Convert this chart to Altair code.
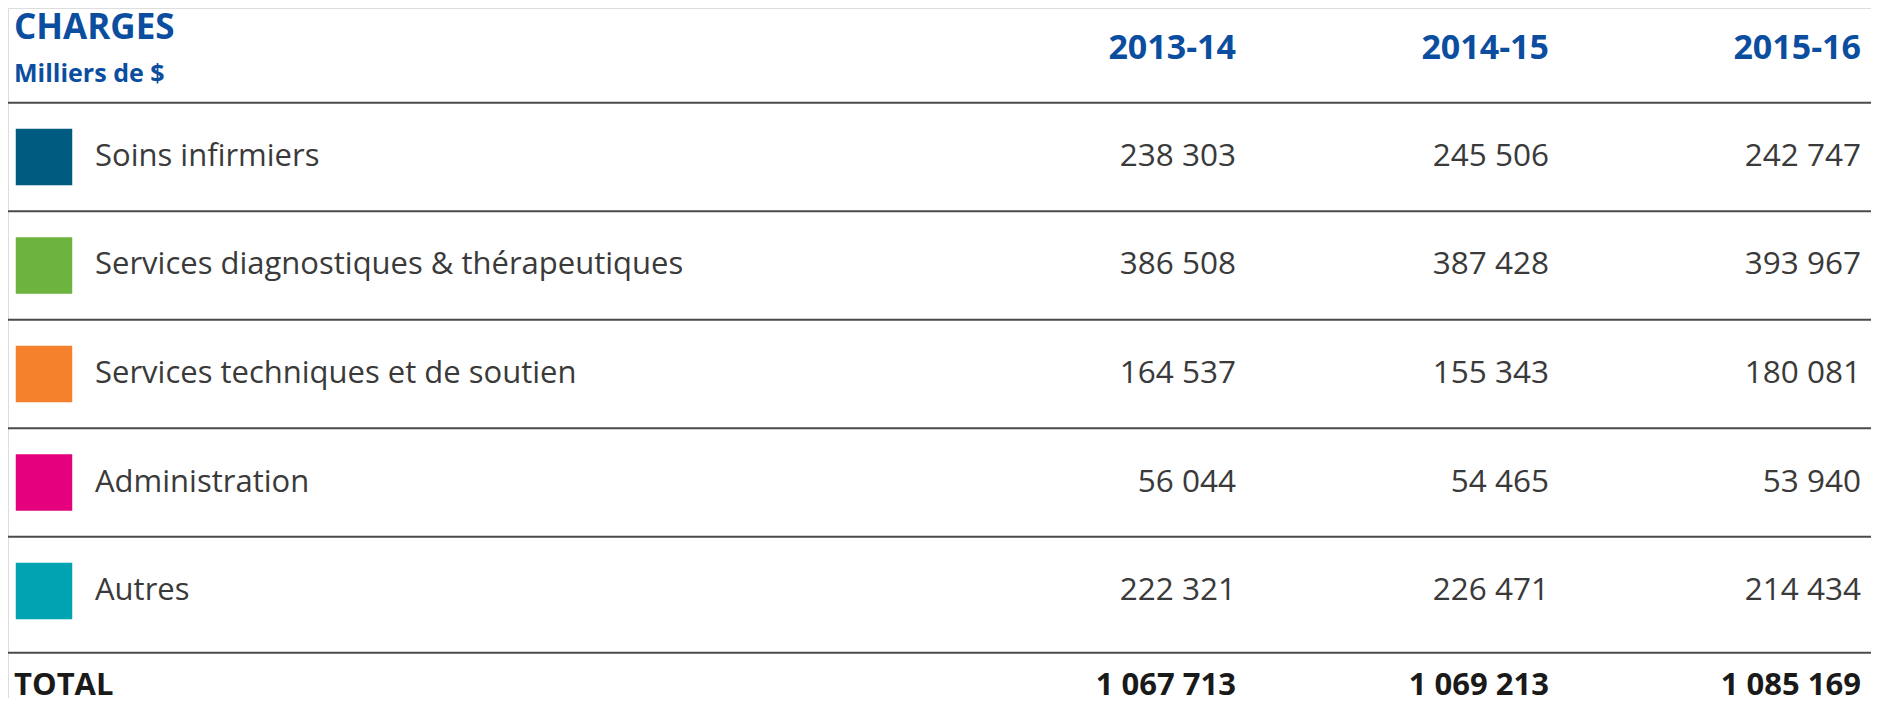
import altair as alt
import pandas as pd

# ---- data ----
categories = ["Soins infirmiers", "Services diagnostiques & thérapeutiques",
              "Services techniques et de soutien", "Administration", "Autres"]
colors = ["#005b80", "#6cb33f", "#f5812c", "#e5007d", "#00a3b1"]
years = ["2013-14", "2014-15", "2015-16"]
v2013 = [238303, 386508, 164537, 56044, 222321]
v2014 = [245506, 387428, 155343, 54465, 226471]
v2015 = [242747, 393967, 180081, 53940, 214434]
totals = [1067713, 1069213, 1085169]
title_text = "CHARGES"
subtitle_text = "Milliers de $"
total_label = "TOTAL"

# ---- layout constants ----
W, H = 1863, 690
BLUE = "#0b4ea0"
TXT = "#3a3a3a"
LINE = "#4a4a4a"
FONT = "Open Sans"
TOTAL_ROW = 5.875
TOTAL_SEP = 5.57

col_keys = ["title", "swatch", "label"] + years
col_idx = {k: i for i, k in enumerate(col_keys)}

def fmt(v):
    return f"{v:,}".replace(",", " ")

xscale = alt.Scale(domain=list(range(len(col_keys))),
                   range=[6, 36, 87, 1228, 1541, 1853], nice=False, zero=False)
yscale = alt.Scale(domain=[-0.373, 5.986], reverse=True, nice=False, zero=False)

def X():
    return alt.X("col:Q", scale=xscale, axis=None)

def Y(f="row"):
    return alt.Y(f + ":Q", scale=yscale, axis=None)

series = [v2013, v2014, v2015]
rows = []
for i, c in enumerate(categories):
    rows.append({"row": i + 1, "col": col_idx["label"], "text": c})
values = []
for j, y in enumerate(years):
    for i, c in enumerate(categories):
        values.append({"row": i + 1, "col": col_idx[y], "text": fmt(series[j][i])})
df_labels = pd.DataFrame(rows)
df_vals = pd.DataFrame(values)
df_sw = pd.DataFrame({"row": list(range(1, len(categories) + 1)),
                      "col": [col_idx["swatch"]] * len(categories), "cat": categories})
df_years = pd.DataFrame({"row": [0.005] * 3, "col": [col_idx[y] for y in years], "text": years})
df_title = pd.DataFrame({"row": [-0.19], "col": [col_idx["title"]], "text": [title_text]})
df_sub = pd.DataFrame({"row": [0.235], "col": [col_idx["title"]], "text": [subtitle_text]})
df_tot = pd.DataFrame({"row": [TOTAL_ROW] * 3, "col": [col_idx[y] for y in years],
                       "text": [fmt(t) for t in totals]})
df_totlab = pd.DataFrame({"row": [TOTAL_ROW], "col": [col_idx["title"]], "text": [total_label]})
df_lines = pd.DataFrame({"pos": [i + 0.5 for i in range(len(categories))] + [TOTAL_SEP]})

rules = alt.Chart(df_lines).mark_rule(color=LINE, strokeWidth=2).encode(
    y=Y("pos"), x=alt.value(0), x2=alt.value(W))

sw = alt.Chart(df_sw).mark_square(size=3190, opacity=1).encode(
    x=X(), y=Y(),
    color=alt.Color("cat:N", scale=alt.Scale(domain=categories, range=colors), legend=None))

labels = alt.Chart(df_labels).mark_text(align="left", baseline="middle", font=FONT,
                                        fontSize=31, color=TXT).encode(x=X(), y=Y(), text="text:N")
vals = alt.Chart(df_vals).mark_text(align="right", baseline="middle", font=FONT,
                                    fontSize=31.5, color=TXT).encode(x=X(), y=Y(), text="text:N")
yrs = alt.Chart(df_years).mark_text(align="right", baseline="middle", font=FONT, fontWeight="bold",
                                    fontSize=34, color=BLUE).encode(x=X(), y=Y(), text="text:N")
ttl = alt.Chart(df_title).mark_text(align="left", baseline="middle", font=FONT, fontWeight="bold",
                                    fontSize=35, color=BLUE).encode(x=X(), y=Y(), text="text:N")
sub = alt.Chart(df_sub).mark_text(align="left", baseline="middle", font=FONT, fontWeight="bold",
                                  fontSize=25, color=BLUE).encode(x=X(), y=Y(), text="text:N")
tot = alt.Chart(df_tot).mark_text(align="right", baseline="middle", font=FONT, fontWeight="bold",
                                  fontSize=31, color="#1a1a1a").encode(x=X(), y=Y(), text="text:N")
totlab = alt.Chart(df_totlab).mark_text(align="left", baseline="middle", font=FONT, fontWeight="bold",
                                        fontSize=31, color="#1a1a1a").encode(x=X(), y=Y(), text="text:N")

chart = alt.layer(rules, sw, labels, vals, yrs, ttl, sub, tot, totlab).properties(
    width=W, height=H, autosize=alt.AutoSizeParams(type="none"), padding=0
).configure_view(strokeWidth=0, stroke="transparent").configure(background="white")

chart.save("out.html", embed_options={"renderer": "svg", "actions": False})
